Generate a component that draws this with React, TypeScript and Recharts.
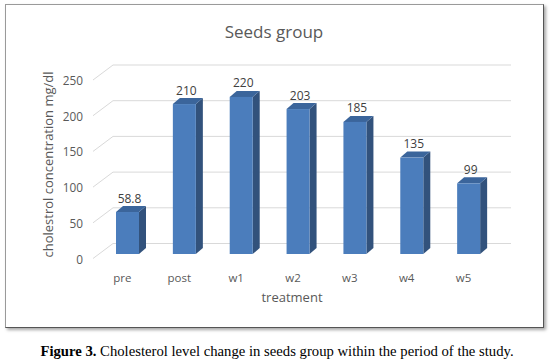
import React from "react";
import { BarChart, Bar, XAxis, YAxis, CartesianGrid, LabelList } from "recharts";

const categories = ["pre", "post", "w1", "w2", "w3", "w4", "w5"];
const cholesterol = [58.8, 210, 220, 203, 185, 135, 99];
const valueLabels = ["58.8", "210", "220", "203", "185", "135", "99"];
const yTicks = [0, 50, 100, 150, 200, 250];

const data = categories.map((c, i) => ({ name: c, value: cholesterol[i], label: valueLabels[i] }));

const FONT = "'Open Sans', 'Noto Sans', sans-serif";
const DX = 7;
const DY = 6;
const GDX = 14;
const GDY = 10.5;

const Bar3D = (props: any) => {
  const { x, y, width, height } = props;
  if (width == null || height == null) return null;
  return (
    <g>
      <polygon
        points={`${x + width},${y} ${x + width + DX},${y - DY} ${x + width + DX},${y + height - DY} ${x + width},${y + height}`}
        fill="#32527c"
      />
      <polygon
        points={`${x},${y} ${x + DX},${y - DY} ${x + width + DX},${y - DY} ${x + width},${y}`}
        fill="#3b659b"
      />
      <rect x={x} y={y} width={width} height={height} fill="#4b7dbc" />
    </g>
  );
};

const GridLine = (props: any) => {
  const { x1, y1, x2, y2 } = props;
  return (
    <g key={props.key}>
      <line x1={x1 + GDX} y1={y1 - GDY} x2={x2 + GDX} y2={y2 - GDY} stroke="#d9d9d9" strokeWidth={1} />
      <line x1={x1 - 6} y1={y1 + 4.5} x2={x1 + GDX} y2={y1 - GDY} stroke="#d9d9d9" strokeWidth={1} />
    </g>
  );
};

const YTick = (props: any) => {
  const { x, y, payload } = props;
  return (
    <text x={x} y={y + 4.5} textAnchor="end" dominantBaseline="central" fill="#595959" fontSize={11.8} fontFamily={FONT}>
      {payload.value}
    </text>
  );
};

const XTick = (props: any) => {
  const { x, payload } = props;
  return (
    <text x={x - 5} y={277} textAnchor="middle" dominantBaseline="central" fill="#595959" fontSize={11.5} fontFamily={FONT}>
      {payload.value}
    </text>
  );
};

const ValueLabel = (props: any) => {
  const { x, y, width, value } = props;
  return (
    <text x={x + width / 2 + 2} y={y - 14} textAnchor="middle" dominantBaseline="central" fill="#404040" fontSize={12} fontFamily={FONT}>
      {value}
    </text>
  );
};

export default function App() {
  return (
    <div style={{ position: "absolute", left: 0, top: 0, width: 552, height: 363, background: "#fff", overflow: "hidden" }}>
      <div
        style={{
          position: "absolute",
          left: 5,
          top: 4,
          width: 537,
          height: 322,
          borderTop: "1px solid #9a9a9a",
          borderLeft: "1px solid #9a9a9a",
          borderRight: "1px solid #555",
          borderBottom: "1px solid #555",
          boxShadow: "2px 2px 3px rgba(0,0,0,0.35)",
          background: "#fff",
        }}
      />
      <div style={{ position: "absolute", left: 0, top: 0 }}>
        <BarChart width={552} height={330} data={data} margin={{ top: 75.5, right: 55, bottom: 46, left: 59 }} barSize={23}>
          <CartesianGrid vertical={false} horizontal={GridLine} />
          <XAxis dataKey="name" axisLine={false} tickLine={false} tick={XTick} height={30} interval={0} />
          <YAxis
            domain={[0, 250]}
            ticks={yTicks}
            axisLine={false}
            tickLine={false}
            tickSize={0}
            tickMargin={16}
            width={40}
            tick={YTick}
            interval={0}
          />
          <Bar dataKey="value" shape={Bar3D} isAnimationActive={false}>
            <LabelList dataKey="label" content={ValueLabel} />
          </Bar>
        </BarChart>
      </div>
      <svg width={552} height={363} style={{ position: "absolute", left: 0, top: 0, pointerEvents: "none" }}>
        <text x={274} y={31} textAnchor="middle" dominantBaseline="central" fill="#595959" fontSize={17} fontFamily={FONT}>
          Seeds group
        </text>
        <text x={292} y={297} textAnchor="middle" dominantBaseline="central" fill="#595959" fontSize={13} fontFamily={FONT}>
          treatment
        </text>
        <text
          x={48}
          y={164.5}
          transform="rotate(-90 48 164.5)"
          textAnchor="middle"
          dominantBaseline="central"
          fill="#595959"
          fontSize={13}
          fontFamily={FONT}
        >
          cholestrol concentration mg/dl
        </text>
        <text x={277} y={351} textAnchor="middle" dominantBaseline="central" fill="#000" fontSize={14.7} fontFamily="'Liberation Serif', 'Times New Roman', serif">
          <tspan fontWeight="bold">Figure 3.</tspan> Cholesterol level change in seeds group within the period of the study.
        </text>
      </svg>
    </div>
  );
}
